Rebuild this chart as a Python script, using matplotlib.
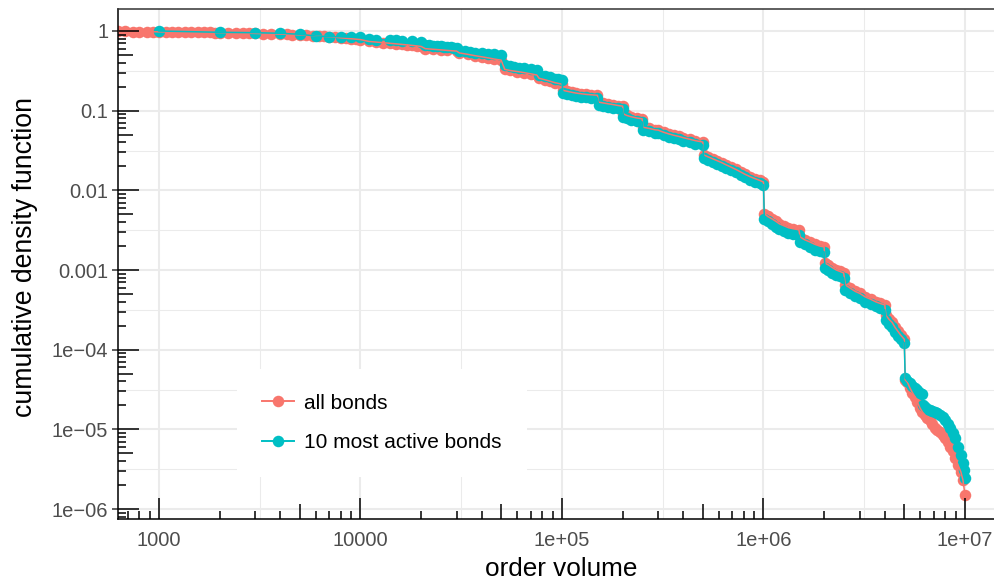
import matplotlib
matplotlib.use("Agg")
import matplotlib.pyplot as plt
from matplotlib.lines import Line2D
from matplotlib.transforms import blended_transform_factory

# ---------------- data ----------------
series_names = ["all bonds", "10 most active bonds"]
series_colors = ["#F8766D", "#00BFC4"]

all_bonds = [
    (500, 1.0), (540, 0.997), (580, 0.994), (630, 0.99), (680, 0.988), (740, 0.985), (800, 0.982),
    (870, 0.98), (940, 0.977), (1000, 0.975), (1080, 0.973), (1160, 0.971), (1250, 0.969),
    (1350, 0.967), (1450, 0.965), (1560, 0.963), (1680, 0.96), (1800, 0.958), (1900, 0.956),
    (2000, 0.955), (2200, 0.951), (2400, 0.946), (2600, 0.942), (2800, 0.938), (3000, 0.935),
    (3300, 0.929), (3600, 0.922), (4000, 0.915), (4300, 0.909), (4600, 0.902), (5000, 0.895),
    (5400, 0.887), (5800, 0.876), (6200, 0.866), (6600, 0.857), (7000, 0.845), (7500, 0.835),
    (8000, 0.82), (8500, 0.81), (9000, 0.80), (9500, 0.79), (10000, 0.78),
    (11000, 0.74), (12000, 0.725), (13000, 0.71), (14000, 0.70), (15000, 0.69), (16000, 0.68),
    (17000, 0.67), (18000, 0.66), (19000, 0.65), (20000, 0.64),
    (21000, 0.60), (23000, 0.59), (25000, 0.58), (27000, 0.57), (30000, 0.56),
    (31000, 0.53), (34000, 0.51), (37000, 0.49), (40000, 0.475), (43000, 0.46), (46000, 0.445), (50000, 0.43),
    (52000, 0.33), (55000, 0.32), (60000, 0.31), (65000, 0.30), (70000, 0.29), (75000, 0.28),
    (77000, 0.255), (82000, 0.245), (87000, 0.235), (92000, 0.225), (100000, 0.215),
    (101000, 0.18), (106000, 0.175), (112000, 0.17), (118000, 0.166), (125000, 0.163), (132000, 0.16),
    (140000, 0.158), (150000, 0.156),
    (152000, 0.128), (160000, 0.125), (170000, 0.122), (180000, 0.119), (190000, 0.116), (200000, 0.114),
    (202000, 0.091), (210000, 0.087), (220000, 0.084), (235000, 0.081), (250000, 0.079),
    (252000, 0.062), (270000, 0.06), (290000, 0.0575), (300000, 0.057), (320000, 0.0535), (340000, 0.051),
    (360000, 0.049), (380000, 0.0475), (400000, 0.0458), (430000, 0.0438), (460000, 0.042), (500000, 0.0404),
    (505000, 0.0278), (530000, 0.0264), (560000, 0.0249), (590000, 0.0235), (620000, 0.0223),
    (650000, 0.021), (690000, 0.0196), (730000, 0.0183), (770000, 0.017), (810000, 0.0159),
    (860000, 0.0148), (910000, 0.014), (960000, 0.0133), (1000000, 0.0127),
    (1010000, 0.0051), (1050000, 0.0047), (1100000, 0.0044), (1150000, 0.0041), (1200000, 0.0038),
    (1260000, 0.0036), (1330000, 0.0034), (1400000, 0.0033), (1500000, 0.0032),
    (1520000, 0.0026), (1600000, 0.0024), (1700000, 0.00225), (1800000, 0.0021), (1900000, 0.002),
    (2000000, 0.00195),
    (2020000, 0.00122), (2100000, 0.00116), (2200000, 0.00107), (2300000, 0.001), (2400000, 0.00096),
    (2500000, 0.00092),
    (2550000, 0.00065), (2700000, 0.00059), (2850000, 0.00054), (3000000, 0.00051), (3200000, 0.00046),
    (3400000, 0.00043), (3600000, 0.0004), (3800000, 0.00038), (4000000, 0.000365),
    (4050000, 0.00027), (4200000, 0.00024), (4350000, 0.00022), (4500000, 0.00019), (4650000, 0.00017),
    (4800000, 0.000152), (5000000, 0.000135),
    (5050000, 4.18e-5), (5180000, 3.9e-5), (5330000, 3.32e-5), (5480000, 2.9e-5), (5650000, 2.56e-5),
    (5800000, 2.2e-5), (5980000, 1.86e-5), (6150000, 1.65e-5), (6330000, 1.52e-5), (6500000, 1.4e-5),
    (6700000, 1.32e-5), (6900000, 1.18e-5), (7100000, 1.04e-5), (7300000, 9.8e-6), (7520000, 9.3e-6),
    (7750000, 8.5e-6), (7960000, 7.8e-6), (8200000, 6.9e-6), (8430000, 6.0e-6), (8700000, 5.3e-6),
    (8920000, 4.4e-6), (9230000, 3.6e-6), (9550000, 2.9e-6), (9770000, 2.32e-6), (10000000, 1.5e-6),
]

top10_bonds = [
    (1000, 1.0), (2000, 0.963), (3000, 0.952), (4000, 0.936), (5000, 0.909), (6000, 0.866),
    (7000, 0.850), (8000, 0.846), (9000, 0.843), (10000, 0.840),
    (11000, 0.785), (12000, 0.778), (14000, 0.77), (15000, 0.765), (16000, 0.757), (18000, 0.745),
    (20000, 0.735),
    (21000, 0.667), (22000, 0.66), (23000, 0.653), (24000, 0.647), (25000, 0.64), (26000, 0.634),
    (27000, 0.628), (28000, 0.622), (29000, 0.617), (30000, 0.612),
    (31000, 0.566), (33000, 0.555), (35000, 0.545), (37000, 0.537), (40000, 0.527), (43000, 0.517),
    (46000, 0.508), (50000, 0.50),
    (52000, 0.375), (55000, 0.366), (58000, 0.357), (61000, 0.348), (65000, 0.34), (70000, 0.332),
    (75000, 0.324),
    (77000, 0.28), (82000, 0.27), (87000, 0.262), (92000, 0.253), (96000, 0.248), (100000, 0.243),
    (101000, 0.167), (106000, 0.162), (112000, 0.157), (118000, 0.153), (125000, 0.15), (132000, 0.148),
    (140000, 0.146), (150000, 0.144),
    (152000, 0.118), (160000, 0.115), (170000, 0.112), (180000, 0.109), (190000, 0.107), (200000, 0.105),
    (202000, 0.0833), (210000, 0.080), (220000, 0.077), (235000, 0.0745), (250000, 0.0722),
    (252000, 0.0573), (270000, 0.055), (290000, 0.0528), (300000, 0.0522), (320000, 0.049),
    (340000, 0.047), (360000, 0.045), (380000, 0.0435), (400000, 0.042), (430000, 0.0402),
    (460000, 0.0385), (500000, 0.0371),
    (505000, 0.0255), (530000, 0.0242), (560000, 0.0228), (590000, 0.0216), (620000, 0.0205),
    (650000, 0.0193), (690000, 0.018), (730000, 0.0168), (770000, 0.0156), (810000, 0.0146),
    (860000, 0.0136), (910000, 0.0128), (960000, 0.0122), (1000000, 0.0117),
    (1010000, 0.00438), (1050000, 0.0041), (1100000, 0.0038), (1150000, 0.0035), (1200000, 0.0033),
    (1260000, 0.0031), (1330000, 0.0029), (1400000, 0.00285), (1500000, 0.00275),
    (1520000, 0.00225), (1600000, 0.0021), (1700000, 0.00195), (1800000, 0.0018), (1900000, 0.00175),
    (2000000, 0.00169),
    (2020000, 0.00106), (2100000, 0.001), (2200000, 0.00093), (2300000, 0.00087), (2400000, 0.00083),
    (2500000, 0.0008),
    (2550000, 0.00056), (2700000, 0.00051), (2850000, 0.00047), (3000000, 0.00044), (3200000, 0.0004),
    (3400000, 0.00037), (3600000, 0.00035), (3800000, 0.00033), (4000000, 0.000316),
    (4050000, 0.000237), (4200000, 0.00021), (4350000, 0.00019), (4500000, 0.000165),
    (4650000, 0.000148), (4800000, 0.000135), (5000000, 0.000122),
    (5050000, 4.43e-5), (5180000, 4.1e-5), (5330000, 3.83e-5), (5480000, 3.55e-5), (5650000, 3.32e-5),
    (5800000, 3.1e-5), (5980000, 2.87e-5), (6100000, 2.8e-5), (6200000, 2.0e-5), (6330000, 1.91e-5),
    (6500000, 1.82e-5), (6700000, 1.76e-5), (6900000, 1.7e-5), (7100000, 1.66e-5), (7300000, 1.6e-5),
    (7520000, 1.52e-5), (7750000, 1.42e-5), (7960000, 1.32e-5), (8200000, 1.17e-5), (8430000, 1.04e-5),
    (8700000, 9.0e-6), (8920000, 7.8e-6), (9230000, 6.0e-6), (9550000, 4.8e-6), (9770000, 3.8e-6),
    (9900000, 3.1e-6), (10000000, 2.47e-6),
]

x_ticks = [1e3, 1e4, 1e5, 1e6, 1e7]
x_tick_labels = ["1000", "10000", "1e+05", "1e+06", "1e+07"]
y_ticks = [1, 0.1, 0.01, 0.001, 1e-4, 1e-5, 1e-6]
y_tick_labels = ["1", "0.1", "0.01", "0.001", "1e\u221204", "1e\u221205", "1e\u221206"]
x_title = "order volume"
y_title = "cumulative density function"

# ---------------- figure ----------------
W, H = 995, 581
fig = plt.figure(figsize=(W / 100, H / 100), dpi=100)
plt.rcParams["font.family"] = ["Liberation Sans", "DejaVu Sans"]

ax_l, ax_r, ax_t, ax_b = 118, 995, 9, 519
ax = fig.add_axes([ax_l / W, 1 - ax_b / H, (ax_r - ax_l) / W, (ax_b - ax_t) / H])
ax.set_xscale("log")
ax.set_yscale("log")
ax.set_xlim(10 ** 2.797, 10 ** 7.149)
ax.set_ylim(10 ** -6.125, 10 ** 0.276)

# grid (major at decades, minor at half decades)
grid_c = "#EBEBEB"
xmaj = [10.0 ** k for k in range(2, 9)]
ymaj = [10.0 ** -k for k in range(-1, 8)]
for v in xmaj:
    ax.axvline(v, color=grid_c, lw=1.45, zorder=0)
    ax.axvline(v * 10 ** 0.5, color=grid_c, lw=0.75, zorder=0)
for v in ymaj:
    ax.axhline(v, color=grid_c, lw=1.45, zorder=0)
    ax.axhline(v * 10 ** 0.5, color=grid_c, lw=0.75, zorder=0)

datasets = [all_bonds, top10_bonds]
ms = 8.3
for data, col in zip(datasets, series_colors):
    xs, ys = zip(*data)
    ax.plot(xs, ys, linestyle="none", marker="o", ms=ms, mew=0, color=col, zorder=2)
for data, col in zip(datasets, series_colors):
    xs, ys = zip(*data)
    ax.plot(xs, ys, linestyle="-", lw=1.1, color=col, zorder=3)

# axes styling
ax.spines["right"].set_visible(False)
for s in ["left", "bottom", "top"]:
    ax.spines[s].set_color("black")
    ax.spines[s].set_linewidth(1.1)
ax.spines["top"].set_color("#333333")

ax.set_xticks(x_ticks)
ax.set_xticklabels(x_tick_labels)
ax.set_yticks(y_ticks)
ax.set_yticklabels(y_tick_labels)
ax.minorticks_off()
ax.tick_params(axis="x", length=0, pad=9, labelsize=14.5, labelcolor="#4D4D4D")
ax.tick_params(axis="y", length=4, width=1.1, color="#333333", pad=3,
               labelsize=14.5, labelcolor="#4D4D4D")

# log ticks (annotation_logticks style), bottom and left
axw, axh = ax_r - ax_l, ax_b - ax_t
tx = blended_transform_factory(ax.transData, ax.transAxes)
ty = blended_transform_factory(ax.transAxes, ax.transData)
xlo, xhi = ax.get_xlim()
ylo, yhi = ax.get_ylim()
for k in range(-8, 9):
    for m in range(1, 10):
        v = m * 10.0 ** k
        L = 21 if m == 1 else (15 if m == 5 else 8)
        if xlo <= v <= xhi:
            ax.plot([v, v], [0, L / axh], transform=tx, color="black", lw=1.1,
                    solid_capstyle="butt", zorder=6, clip_on=False)
        if ylo <= v <= yhi:
            ax.plot([0, L / axw], [v, v], transform=ty, color="black", lw=1.1,
                    solid_capstyle="butt", zorder=6, clip_on=False)

# axis titles
fig.text(561 / W, 1 - 569 / H, x_title, ha="center", va="center", fontsize=18.8, color="black")
fig.text(25 / W, 1 - 257 / H, y_title, ha="center", va="center", rotation=90,
         fontsize=19.2, color="black")

# legend
handles = [Line2D([0], [0], color=c, lw=1.4, marker="o", ms=ms, mew=0) for c in series_colors]
leg = ax.legend(handles, series_names, loc="upper left",
                bbox_to_anchor=(237 / W, 1 - 369 / H), bbox_transform=fig.transFigure,
                borderaxespad=0, frameon=True, fancybox=False, framealpha=1,
                facecolor="white", edgecolor="none", fontsize=15,
                handlelength=1.55, handletextpad=0.5, labelspacing=0.99, borderpad=1.19)
leg.set_zorder(10)

fig.savefig("out.png", dpi=100, facecolor="white")
